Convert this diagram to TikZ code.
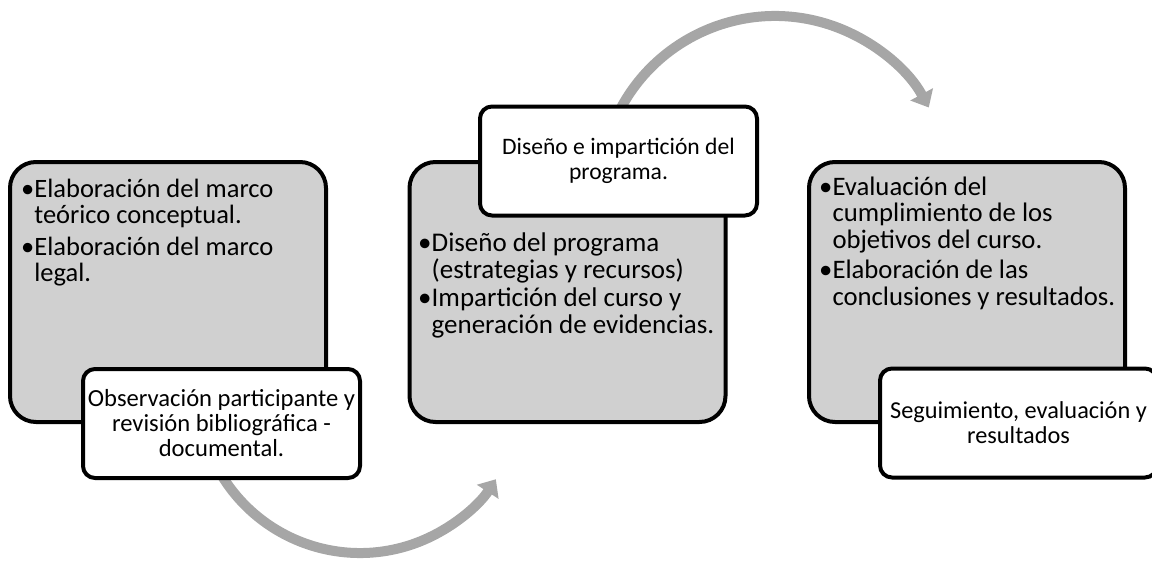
\documentclass[tikz,border=0pt]{standalone}
\usepackage{fontspec}
\setmainfont{Carlito}
\usetikzlibrary{arrows.meta}
\definecolor{arrowgray}{HTML}{A6A6A6}
\definecolor{boxgray}{HTML}{D0D0D0}
\newlength\bulw
\newcommand\bitem[1]{\par\hangindent=\bulw\hangafter=1\noindent\makebox[\bulw][l]{\textbullet}#1}
\newcommand\blist[2]{\vtop{\hsize=#1\parindent=0pt\parskip=0pt\raggedright\settowidth\bulw{\textbullet}#2}}
\tikzset{
  greybox/.style={draw=black, line width=4pt, fill=boxgray, rounded corners=26pt,
    minimum width=316pt, minimum height=260pt, inner sep=0pt},
  whitebox/.style={draw=black, line width=4pt, fill=white, rounded corners=12pt,
    minimum width=277pt, minimum height=109pt, inner sep=0pt, align=center},
  bullettext/.style={anchor=base west, inner sep=0pt},
  cyclearrow/.style={draw=arrowgray, line width=10pt, -{Triangle[width=25pt,length=15pt]}},
}
\begin{document}
\begin{tikzpicture}[x=1pt,y=-1pt]
\useasboundingbox (0,0) rectangle (1152,562);
% cycle arrows
\coordinate (c1) at (360,391);
\coordinate (c2) at (775,191);
\draw[cyclearrow] (c1) ++(155:162) arc[start angle=155, end angle=33, radius=162];
\draw[cyclearrow] (c2) ++(200:175) arc[start angle=200, end angle=331.5, radius=175];
% grey boxes
\node[greybox] (g1) at (168,292) {};
\node[greybox] (g2) at (567.5,292) {};
\node[greybox] (g3) at (967,292) {};
% bullet texts
\node[bullettext, font=\fontsize{26.5}{26.5}\selectfont] (t1) at (21,197)
  {\blist{300pt}{\bitem{Elaboración del marco\newline teórico conceptual.}\par\vskip5pt
   \bitem{Elaboración del marco\newline legal.}}};
\node[bullettext, font=\fontsize{27}{27}\selectfont] (t2) at (418,251)
  {\blist{330pt}{\bitem{Diseño del programa\newline (estrategias y recursos)}\par\vskip1.5pt
   \bitem{Impartición del curso y\newline generación de evidencias.}}};
\node[bullettext, font=\fontsize{26.7}{26.7}\selectfont] (t3) at (819,195)
  {\blist{330pt}{\bitem{Evaluación del\newline cumplimiento de los\newline objetivos del curso.}\par\vskip3.3pt
   \bitem{Elaboración de las\newline conclusiones y resultados.}}};
% white boxes
\node[whitebox, font=\fontsize{24.6}{25}\selectfont] (w1) at (221.5,423.5)
  {Observación participante y\\revisión bibliográfica -\\documental.};
\node[whitebox, font=\fontsize{23.6}{25}\selectfont] (w2) at (618.5,161)
  {Diseño e impartición del\\programa.};
\node[whitebox, font=\fontsize{24.3}{25}\selectfont] (w3) at (1018.5,423)
  {Seguimiento, evaluación y\\resultados};
\end{tikzpicture}
\end{document}
